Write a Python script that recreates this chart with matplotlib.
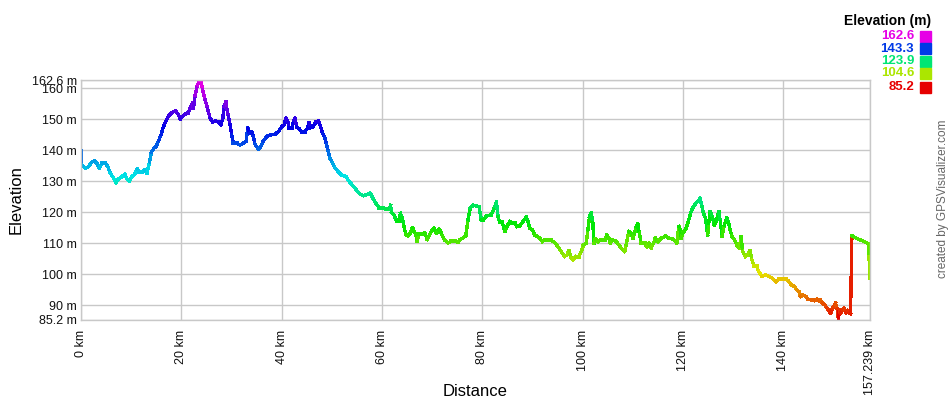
import colorsys
import numpy as np
import matplotlib
matplotlib.use("Agg")
import matplotlib.pyplot as plt
from matplotlib.collections import LineCollection

plt.rcParams["font.family"] = ["Liberation Sans", "DejaVu Sans"]

# ── Track profile ────────────────────────────────────────────────────────────
dist_km = [
    0.0, 0.13, 0.8, 1.47, 2.14, 2.68, 3.14, 3.61, 4.15, 4.82, 5.35, 5.82, 6.49,
    6.96, 7.49, 8.16, 8.7, 9.16, 9.63, 10.17, 10.7, 11.17, 11.64, 12.17, 12.71,
    13.18, 13.65, 14.05, 14.52, 14.98, 15.52, 15.99, 16.32, 16.72, 17.19, 17.66,
    18.19, 18.86, 19.33, 19.8, 20.2, 20.74, 21.4, 21.74, 22.21, 22.41, 22.74,
    23.21, 23.68, 23.95, 24.21, 24.75, 25.22, 25.73,
    26.26, 26.73, 27.39, 27.85, 28.25, 28.52, 28.85, 29.05, 29.38, 29.71, 30.04,
    30.37, 31.04, 31.7, 32.36, 32.89, 33.23, 33.56, 34.02, 34.35, 34.69, 35.35,
    35.81, 36.34, 37.01, 37.67, 38.67, 39.33, 39.99, 40.46, 40.85, 41.19, 41.52,
    41.98, 42.45, 42.65, 42.98, 43.51, 43.97, 44.64, 45.1, 45.5, 45.76, 46.29,
    46.82, 47.29, 47.62, 48.15, 48.62, 48.95, 49.28, 49.61, 50.14, 50.61, 51.27,
    51.93, 52.4, 52.93, 53.46,
    54.25, 54.92, 55.58, 56.24, 56.91, 57.57, 57.9, 58.37, 58.9, 59.43, 60.22,
    60.89, 61.42, 61.68, 61.88, 62.35, 62.88, 63.28, 63.67, 64.0, 64.34, 64.73,
    65.2, 65.66, 66.06, 66.39, 66.72, 66.99, 67.39, 68.05, 68.52, 68.98, 69.38,
    69.84, 70.31, 70.84, 71.37, 71.63, 72.03, 72.5, 73.16, 73.82, 74.49, 75.15,
    75.61, 76.14, 76.67, 77.14, 77.6, 78.13, 78.8, 79.33, 79.79, 80.12, 80.79,
    81.78,
    82.45, 82.78, 83.11, 83.44, 83.97, 84.44, 84.9, 85.43, 85.96, 86.43, 86.89,
    87.42, 88.08, 88.75, 89.08, 89.41, 89.94, 90.41, 91.4, 91.93, 92.4, 93.06,
    93.72, 94.39, 95.05, 95.71, 96.38, 96.84, 97.24, 97.7, 98.03, 98.56, 99.23,
    99.69, 100.16, 100.69, 101.02, 101.35, 101.68, 102.01, 102.21, 102.54,
    103.01, 103.67, 104.34, 104.8, 105.2, 105.46, 105.99, 106.66, 107.19,
    107.65, 108.32, 108.65, 109.18, 109.64, 109.97, 110.31, 110.64, 110.9,
    111.3, 111.63,
    112.3, 112.76, 113.16, 113.62, 114.09, 114.48, 114.95, 115.61, 116.47,
    117.27, 117.93, 118.46, 118.73, 119.13, 119.39, 119.59, 119.92, 120.59,
    121.12, 121.58, 122.05, 122.58, 123.11, 123.37, 123.77, 124.04, 124.43,
    124.9, 125.1, 125.43, 125.89, 126.23, 126.69, 127.09, 127.42, 127.75,
    128.22, 128.68, 129.08, 129.34, 129.74, 130.21, 130.67, 131.2, 131.53,
    131.86, 132.39, 132.86, 133.32, 133.72, 134.19, 134.65, 135.05, 135.71,
    136.37, 137.04, 137.7, 138.5, 139.03, 139.69,
    140.53, 141.07, 141.54, 142.2, 142.67, 143.07, 143.41, 143.88, 144.41,
    144.88, 145.55, 146.21, 146.68, 147.08, 147.35, 147.75, 148.22, 148.69,
    149.09, 149.35, 149.76, 150.02, 150.36, 150.69, 150.96, 151.1, 151.36,
    151.76, 152.09, 152.43, 152.76, 153.1, 153.36, 153.63, 154.23, 154.9,
    155.57, 156.24, 156.91, 157.04, 157.239,
]
elev_m = [
    140.0, 135.3, 134.2, 134.7, 136.1, 136.6, 135.8, 134.2, 135.8, 135.8, 134.7,
    132.6, 131.0, 129.4, 130.8, 131.5, 132.3, 130.8, 130.1, 131.5, 132.3, 134.0,
    133.1, 133.1, 133.7, 132.6, 136.3, 139.4, 140.6, 141.2, 143.3, 145.2, 147.1,
    148.7, 150.3, 151.4, 152.2, 152.7, 151.6, 150.1, 150.9, 151.6, 152.2, 153.5,
    155.2, 153.5, 157.8, 161.1, 162.6, 162.4, 159.5, 156.2, 153.5, 150.3,
    149.2, 149.5, 149.2, 148.2, 150.3, 154.1, 155.7, 153.5, 150.9, 148.2, 144.9,
    142.3, 142.3, 141.7, 142.3, 142.8, 147.1, 145.5, 146.0, 144.4, 141.9, 140.4,
    141.2, 143.0, 144.4, 144.9, 145.2, 146.0, 147.6, 148.2, 150.3, 149.2, 147.1,
    147.1, 149.8, 150.3, 147.6, 146.9, 146.0, 146.0, 147.1, 148.9, 147.3, 147.6,
    149.2, 149.5, 148.2, 145.5, 143.9, 141.7, 139.6, 137.4, 135.8, 134.4, 133.1,
    132.0, 131.8, 131.2, 129.9,
    128.4, 127.1, 125.9, 125.4, 125.7, 126.2, 125.4, 123.9, 122.5, 121.4, 121.4,
    120.9, 121.1, 122.2, 120.0, 119.2, 117.1, 117.1, 119.6, 118.2, 115.5, 112.8,
    112.3, 113.3, 114.9, 113.9, 112.8, 110.6, 113.1, 113.1, 113.3, 111.2, 112.3,
    113.9, 114.9, 113.3, 114.4, 113.9, 112.3, 111.0, 110.1, 110.6, 110.6, 110.3,
    111.2, 111.7, 112.3, 117.6, 121.4, 122.2, 122.0, 121.7, 117.6, 117.4, 118.7,
    119.2,
    121.8, 123.4, 118.6, 116.7, 116.7, 113.8, 115.4, 117.0, 116.5, 116.5, 115.4,
    115.6, 117.0, 118.4, 117.0, 114.8, 114.3, 112.7, 111.6, 110.5, 111.1, 110.9,
    110.9, 110.2, 108.9, 107.3, 105.7, 106.2, 107.6, 105.2, 104.6, 105.7, 105.7,
    107.3, 109.5, 110.0, 114.3, 118.6, 119.7, 116.5, 110.0, 111.3, 110.5, 111.1,
    111.1, 112.7, 111.6, 110.0, 111.1, 110.5, 109.5, 108.4, 107.3, 109.5, 113.8,
    113.2, 111.6, 113.2, 115.4, 116.1, 113.2, 110.0,
    110.0, 108.9, 110.0, 108.4, 110.0, 111.6, 110.5, 111.6, 112.2, 111.6, 111.3,
    110.5, 110.0, 115.4, 114.3, 111.6, 113.2, 114.8, 117.5, 120.2, 121.8, 122.9,
    123.8, 124.5, 121.8, 119.7, 118.1, 112.7, 116.5, 120.2, 118.1, 115.9, 117.5,
    120.2, 117.0, 112.2, 115.9, 118.1, 116.5, 114.3, 112.2, 111.1, 109.5, 108.4,
    112.2, 107.3, 105.7, 106.2, 107.6, 104.6, 102.5, 102.5, 100.9, 99.3, 99.8,
    99.3, 98.7, 97.6, 98.4, 98.4,
    98.4, 97.6, 96.6, 96.0, 94.9, 94.4, 92.8, 93.3, 92.8, 91.9, 91.7, 91.5,
    91.9, 91.5, 91.7, 90.6, 90.1, 89.0, 88.0, 87.4, 89.0, 89.6, 90.6, 88.7,
    85.2, 88.5, 87.4, 88.5, 89.0, 87.6, 88.3, 87.6, 87.2, 112.4, 111.9, 111.3,
    110.9, 110.4, 109.8, 105.7, 98.7,
]

legend_values = [162.6, 143.3, 123.9, 104.6, 85.2]
y_ticks = [85.2, 90, 100, 110, 120, 130, 140, 150, 160, 162.6]
x_ticks = [0, 20, 40, 60, 80, 100, 120, 140, 157.239]

e_min, e_max = 85.2, 162.6
d_max = 157.239


def elev_color(e):
    """Red (low) -> magenta (high) along the hue wheel, like GPSVisualizer."""
    h = (e - e_min) / (e_max - e_min) * (300.0 / 360.0)
    return colorsys.hsv_to_rgb(h, 1.0, 0.9)


W, H = 950, 400
fig = plt.figure(figsize=(W / 100, H / 100), dpi=100)
ax = fig.add_axes([81 / W, 1 - 320 / H, (870 - 81) / W, (320 - 80.25) / H])

x = np.array(dist_km)
y = np.array(elev_m)
pts = np.column_stack([x, y]).reshape(-1, 1, 2)
segs = np.concatenate([pts[:-1], pts[1:]], axis=1)
lc = LineCollection(segs, colors=[elev_color(e) for e in y[:-1]],
                    linewidths=1.7, capstyle="projecting", joinstyle="miter",
                    antialiaseds=False)
ax.add_collection(lc)

ax.set_xlim(0, d_max)
ax.set_ylim(e_min, e_max)

grid_c = "#c8c8c8"
ax.set_yticks(y_ticks)
ax.set_yticklabels([f"{v:g} m" for v in y_ticks])
ax.set_xticks(x_ticks)
ax.set_xticklabels([f"{v:g} km" for v in x_ticks], rotation=90, va="top")
ax.tick_params(axis="both", length=0, labelsize=9, colors="#111111")
ax.tick_params(axis="x", pad=7)
ax.tick_params(axis="y", pad=3)
ax.grid(True, color=grid_c, linewidth=1.0)
ax.set_axisbelow(True)
for s in ax.spines.values():
    s.set_color(grid_c)
    s.set_linewidth(1.0)

# Axis titles placed in figure pixels, like the reference
fig.text(475.5 / W, 1 - 391 / H, "Distance", fontsize=12,
         ha="center", va="center")
fig.text(16 / W, 1 - 200 / H, "Elevation", rotation=90, fontsize=12,
         ha="center", va="center")

# Legend in the top right corner
fig.text(931 / W, 1 - 21 / H, "Elevation (m)", fontsize=10, fontweight="bold",
         ha="right", va="center")
row_y = [36, 48.5, 61, 73.5, 87]
for v, ry in zip(legend_values, row_y):
    c = elev_color(v)
    fig.text(914 / W, 1 - ry / H, f"{v:.1f}", fontsize=9.5, fontweight="bold",
             color=c, ha="right", va="center")
    fig.patches.append(plt.Rectangle((920 / W, 1 - (ry + 5.5) / H), 11 / W, 11 / H,
                                     transform=fig.transFigure, color=c))

fig.text(943 / W, 1 - 199 / H, "created by GPSVisualizer.com", rotation=90,
         fontsize=8.5, color="#666666", ha="center", va="center")

fig.savefig("out.png", dpi=100)
